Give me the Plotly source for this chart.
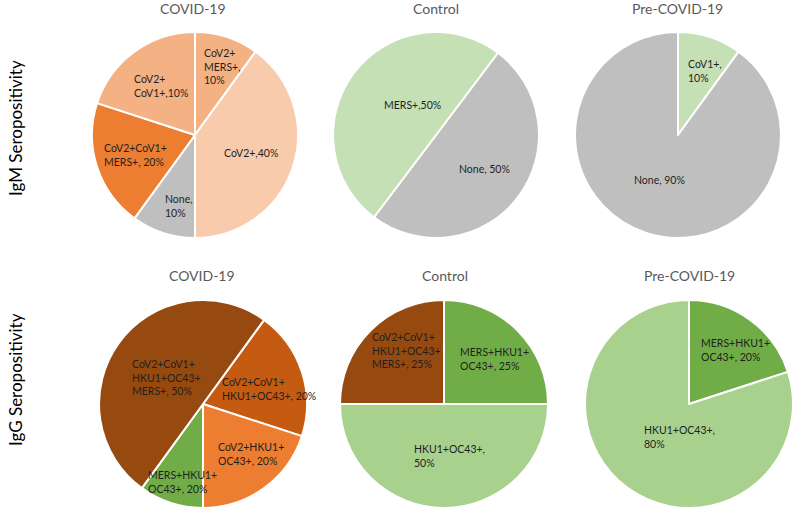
import plotly.graph_objects as go

# ---------------- data ----------------
row_titles = ["IgM Seropositivity", "IgG Seropositivity"]
group_titles = ["COVID-19", "Control", "Pre-COVID-19"]

# IgM
igm_covid_labels = ["CoV2+MERS+", "CoV2+", "None", "CoV2+CoV1+MERS+", "CoV2+CoV1+"]
igm_covid_values = [10, 40, 10, 20, 20]
igm_covid_text = ["CoV2+<br>MERS+,<br>10%", "CoV2+,40%", "None,<br>10%",
                  "CoV2+CoV1+<br>MERS+, 20%", "CoV2+<br>CoV1+,10%"]

igm_control_labels = ["None", "MERS+"]
igm_control_values = [50, 50]
igm_control_text = ["None, 50%", "MERS+,50%"]

igm_pre_labels = ["CoV1+", "None"]
igm_pre_values = [10, 90]
igm_pre_text = ["CoV1+,<br>10%", "None, 90%"]

# IgG
igg_covid_labels = ["CoV2+CoV1+HKU1+OC43+", "CoV2+HKU1+OC43+", "MERS+HKU1+OC43+",
                    "CoV2+CoV1+HKU1+OC43+MERS+"]
igg_covid_values = [20, 20, 10, 50]
igg_covid_text = ["CoV2+CoV1+<br>HKU1+OC43+, 20%", "CoV2+HKU1+<br>OC43+, 20%",
                  "MERS+HKU1+<br>OC43+, 20%", "CoV2+CoV1+<br>HKU1+OC43+<br>MERS+, 50%"]

igg_control_labels = ["MERS+HKU1+OC43+", "HKU1+OC43+", "CoV2+CoV1+HKU1+OC43+MERS+"]
igg_control_values = [25, 50, 25]
igg_control_text = ["MERS+HKU1+<br>OC43+, 25%", "HKU1+OC43+,<br>50%",
                    "CoV2+CoV1+<br>HKU1+OC43+<br>MERS+, 25%"]

igg_pre_labels = ["MERS+HKU1+OC43+", "HKU1+OC43+"]
igg_pre_values = [20, 80]
igg_pre_text = ["MERS+HKU1+<br>OC43+, 20%", "HKU1+OC43+,<br>80%"]

# ---------------- styles / layout ----------------
W, H = 800, 516
GRAY = "#BFBFBF"
colors_igm_covid = ["#F4B183", "#F8CBAD", GRAY, "#ED7D31", "#F4B183"]
colors_igm_control = [GRAY, "#C5E0B4"]
colors_igm_pre = ["#C5E0B4", GRAY]
colors_igg_covid = ["#C55A11", "#ED7D31", "#70AD47", "#974A10"]
colors_igg_control = ["#70AD47", "#A9D18E", "#974A10"]
colors_igg_pre = ["#70AD47", "#A9D18E"]

# pie geometry in pixels: (cx, cy, r, rotation)
pies = [
    (igm_covid_labels, igm_covid_values, colors_igm_covid, (195, 135, 103, 0)),
    (igm_control_labels, igm_control_values, colors_igm_control, (436, 135, 103, 37)),
    (igm_pre_labels, igm_pre_values, colors_igm_pre, (678, 135, 103, 0)),
    (igg_covid_labels, igg_covid_values, colors_igg_covid, (203, 404, 104, 36)),
    (igg_control_labels, igg_control_values, colors_igg_control, (444, 404, 104, 0)),
    (igg_pre_labels, igg_pre_values, colors_igg_pre, (689, 404, 104, 0)),
]

fig = go.Figure()
for labels, values, cols, (cx, cy, r, rot) in pies:
    fig.add_trace(go.Pie(
        labels=labels, values=values, sort=False, direction="clockwise",
        rotation=rot, textinfo="none", hoverinfo="label+percent",
        marker=dict(colors=cols, line=dict(color="white", width=2)),
        domain=dict(x=[(cx - r) / W, (cx + r) / W],
                    y=[1 - (cy + r) / H, 1 - (cy - r) / H]),
        showlegend=False,
    ))

# data-label positions (pixel, left edge x, center y)
label_pos = [
    (igm_covid_text, [(202, 66), (222, 153), (163, 206), (102, 155), (132, 86)]),
    (igm_control_text, [(457, 169), (382, 105)]),
    (igm_pre_text, [(686, 71), (632, 180)]),
    (igg_covid_text, [(220, 389), (216, 454), (146, 482), (130, 377)]),
    (igg_control_text, [(458, 359), (412, 456), (370, 350)]),
    (igg_pre_text, [(699, 350), (642, 437)]),
]
FONT = "Lato, 'Open Sans', sans-serif"
annotations = []
for texts, poss in label_pos:
    for t, (x, y) in zip(texts, poss):
        annotations.append(dict(
            text=t, x=x / W, y=1 - y / H, xref="paper", yref="paper",
            xanchor="left", yanchor="middle", align="left", showarrow=False,
            font=dict(family=FONT, size=10.5, color="#1F1F1F"),
        ))

title_pos = [(193, 8), (436, 8), (677, 8), (202, 275), (445, 275), (689, 275)]
for i, (x, y) in enumerate(title_pos):
    annotations.append(dict(
        text=group_titles[i % 3], x=x / W, y=1 - y / H, xref="paper", yref="paper",
        xanchor="center", yanchor="middle", showarrow=False,
        font=dict(family=FONT, size=14, color="#595959"),
    ))

row_pos = [(15, 128), (15, 380)]
for t, (x, y) in zip(row_titles, row_pos):
    annotations.append(dict(
        text=t, x=x / W, y=1 - y / H, xref="paper", yref="paper",
        xanchor="center", yanchor="middle", textangle=-90, showarrow=False,
        font=dict(family=FONT, size=17, color="#000000"),
    ))

fig.update_layout(
    width=W, height=H, margin=dict(l=0, r=0, t=0, b=0),
    paper_bgcolor="white", plot_bgcolor="white",
    annotations=annotations,
)
fig.write_html(
    "out.html",
    config={"displayModeBar": False},
    post_script="document.body.style.margin='0';document.body.style.padding='0';"
                "document.body.style.overflow='hidden';",
)
